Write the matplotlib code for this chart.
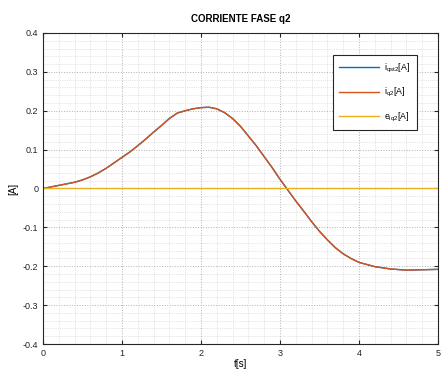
import matplotlib
matplotlib.use('Agg')
import matplotlib.pyplot as plt
from matplotlib.ticker import MultipleLocator, FuncFormatter

plt.rcParams['font.family'] = ['Liberation Sans', 'DejaVu Sans']
plt.rcParams['mathtext.default'] = 'regular'

# Data
t = [0.0, 0.1, 0.2, 0.3, 0.4, 0.5, 0.6, 0.7, 0.8, 0.9, 1.0, 1.1, 1.2, 1.3, 1.4,
     1.5, 1.6, 1.7, 1.8, 1.9, 2.0, 2.1, 2.2, 2.3, 2.4, 2.5, 2.6, 2.7, 2.8, 2.9,
     3.0, 3.1, 3.2, 3.3, 3.4, 3.5, 3.6, 3.7, 3.8, 3.9, 4.0, 4.2, 4.4, 4.6, 4.8, 5.0]
i_q2 = [0.0, 0.004, 0.008, 0.012, 0.016, 0.022, 0.030, 0.040, 0.052, 0.066,
        0.080, 0.094, 0.110, 0.127, 0.145, 0.162, 0.180, 0.194, 0.200, 0.205,
        0.208, 0.209, 0.205, 0.195, 0.180, 0.160, 0.135, 0.110, 0.082, 0.054,
        0.024, -0.004, -0.032, -0.058, -0.085, -0.110, -0.132, -0.152, -0.168,
        -0.180, -0.190, -0.201, -0.207, -0.210, -0.209, -0.208]
i_qst2 = list(i_q2)
e_iq2 = [0.0] * len(t)

fig = plt.figure(figsize=(4.41, 3.74), dpi=100)
ax = fig.add_axes([0.0975, 0.0802, 0.8955, 0.8316])

ax.plot(t, i_qst2, color='#0072BD', linewidth=1.0, label='i$_{qst2}$[A]')
ax.plot(t, i_q2, color='#D95319', linewidth=1.0, label='i$_{q2}$[A]')
ax.plot(t, e_iq2, color='#EDB120', linewidth=1.0, label='e$_{iq2}$[A]')

ax.set_xlim(0, 5)
ax.set_ylim(-0.4, 0.4)
ax.xaxis.set_major_locator(MultipleLocator(1))
ax.xaxis.set_minor_locator(MultipleLocator(0.2))
ax.yaxis.set_major_locator(MultipleLocator(0.1))
ax.yaxis.set_minor_locator(MultipleLocator(0.02))
ax.yaxis.set_major_formatter(FuncFormatter(lambda v, p: '%g' % round(v, 2)))

ax.grid(True, which='major', linestyle=':', color='#b0b0b0', linewidth=0.7)
ax.grid(True, which='minor', linestyle=':', color='#cccccc', linewidth=0.5)
ax.tick_params(which='both', direction='in', top=True, right=True, labelsize=6.5,
               colors='#262626', length=3)
ax.tick_params(which='minor', length=0)
for s in ax.spines.values():
    s.set_color('#262626')
    s.set_linewidth(0.8)

ax.set_xlabel('t[s]', fontsize=7, labelpad=1)
ax.set_ylabel('[A]', fontsize=7, labelpad=3)
ax.set_title('CORRIENTE FASE q2', fontsize=7, fontweight='bold', pad=8)

leg = ax.legend(loc='upper right', bbox_to_anchor=(0.957, 0.942), fontsize=6.3,
                handlelength=4.6, handletextpad=0.6, labelspacing=1.3,
                borderpad=0.7, fancybox=False, framealpha=1, edgecolor='#262626')
leg.get_frame().set_linewidth(0.8)

fig.savefig('out.png', dpi=100)
